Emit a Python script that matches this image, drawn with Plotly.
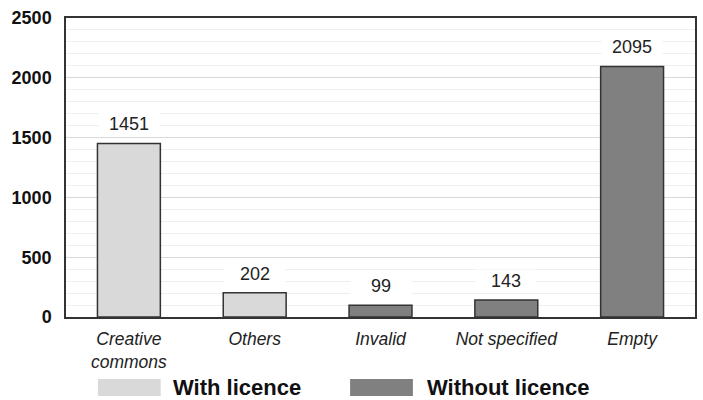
import plotly.graph_objects as go

categories = ["Creative<br>commons", "Others", "Invalid", "Not specified", "Empty"]
with_cats = ["Creative<br>commons", "Others"]
with_vals = [1451, 202]
without_cats = ["Invalid", "Not specified", "Empty"]
without_vals = [99, 143, 2095]
y_ticks = [0, 500, 1000, 1500, 2000, 2500]

LIGHT = "#d9d9d9"
DARK = "#808080"
EDGE = "#333333"
FONT = "Liberation Sans, Arial"

fig = go.Figure()
fig.add_trace(go.Bar(x=with_cats, y=with_vals, name="With licence",
                     marker=dict(color=LIGHT, line=dict(color=EDGE, width=1.5)),
                     width=0.5, showlegend=False))
fig.add_trace(go.Bar(x=without_cats, y=without_vals, name="Without licence",
                     marker=dict(color=DARK, line=dict(color=EDGE, width=1.5)),
                     width=0.5, showlegend=False))

for c, v in list(zip(with_cats, with_vals)) + list(zip(without_cats, without_vals)):
    fig.add_annotation(x=c, y=v, text=str(v), showarrow=False, yanchor="bottom",
                       yshift=7, bgcolor="white", width=58, borderpad=1,
                       font=dict(family=FONT, size=18, color="#222"))

# custom legend
legend_items = [("With licence", LIGHT, 98, 161, 171), ("Without licence", DARK, 351, 414, 426)]
for name, col, x0, x1, xt in legend_items:
    fig.add_shape(type="rect", xref="paper", yref="paper",
                  x0=(x0 - 66) / 631, x1=(x1 - 66) / 631,
                  y0=(317 - 396) / 299, y1=(317 - 379) / 299,
                  fillcolor=col, line=dict(width=0))
    fig.add_annotation(xref="paper", yref="paper", x=(xt - 66) / 631, y=(317 - 387.5) / 299,
                       xanchor="left", yanchor="middle", showarrow=False, text="<b>%s</b>" % name,
                       font=dict(family=FONT, size=22, color="#111"))

fig.update_layout(
    width=703, height=400,
    margin=dict(l=66, r=6, t=18, b=83),
    paper_bgcolor="white", plot_bgcolor="white",
    bargap=0.5,
    xaxis=dict(categoryorder="array", categoryarray=categories, showgrid=False,
               tickfont=dict(family=FONT, size=17.5, color="#222", style="italic"),
               ticks="", ticklabelstandoff=5,
               showline=True, linecolor=EDGE, linewidth=1.5, mirror=True),
    yaxis=dict(range=[0, 2500], tickvals=y_ticks, showgrid=True, gridcolor="#d9d9d9", gridwidth=1,
               minor=dict(dtick=100, showgrid=True, gridcolor="#efefef", gridwidth=1),
               tickfont=dict(family=FONT, size=18, color="#111", weight="bold"),
               ticks="", ticklabelstandoff=9,
               showline=True, linecolor=EDGE, linewidth=1.5, mirror=True, zeroline=False),
)

fig.write_html("out.html")
